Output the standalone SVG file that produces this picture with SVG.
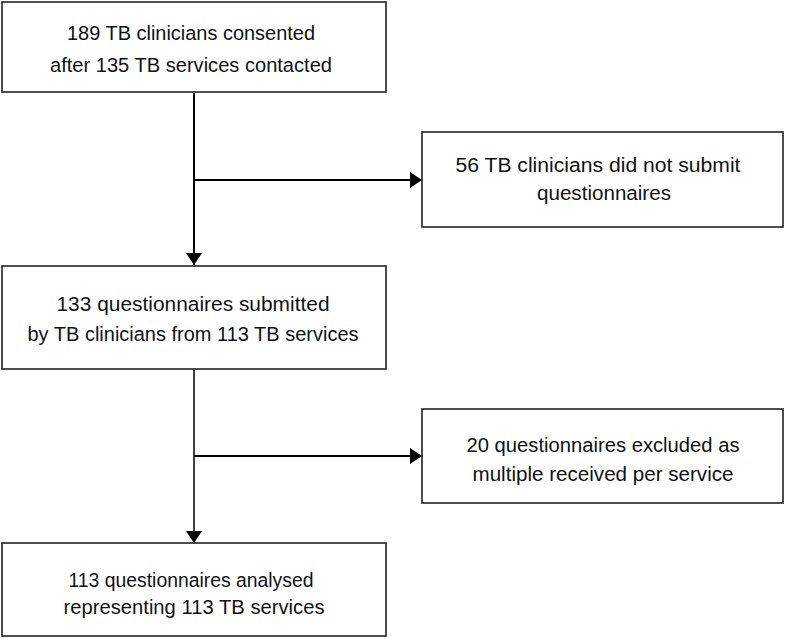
<svg xmlns="http://www.w3.org/2000/svg" width="785" height="638" viewBox="0 0 785 638">
<style>
.box{fill:#fff;stroke:#222;stroke-width:1.6}
.t{font-family:"Liberation Sans",Arial,sans-serif;font-size:19.5px;fill:#111;text-anchor:middle}
.c{fill:none;stroke:#000;stroke-width:2}
.c2{fill:none;stroke:#000;stroke-width:1.5}
</style>
<defs>
<marker id="ah" markerUnits="userSpaceOnUse" markerWidth="13" markerHeight="16" refX="12" refY="8" orient="auto">
<path d="M0,0 L12,8 L0,16 Z" fill="#000"/>
</marker>
</defs>
<rect width="785" height="638" fill="#fff"/>
<g id="connectors">
<line class="c" x1="194" y1="93" x2="194" y2="265" marker-end="url(#ah)"/>
<line class="c" x1="194" y1="180" x2="422" y2="180" marker-end="url(#ah)"/>
<line class="c2" x1="194" y1="369" x2="194" y2="543" marker-end="url(#ah)"/>
<line class="c" x1="194" y1="456" x2="422" y2="456" marker-end="url(#ah)"/>
</g>
<g id="n1">
<rect class="box" x="2" y="2" width="384" height="90"/>
<text class="t" x="191" y="40" textLength="248" lengthAdjust="spacingAndGlyphs">189 TB clinicians consented</text>
<text class="t" x="191" y="72" textLength="282" lengthAdjust="spacingAndGlyphs">after 135 TB services contacted</text>
</g>
<g id="n2">
<rect class="box" x="422" y="132" width="361" height="95"/>
<text class="t" x="598" y="172" textLength="285" lengthAdjust="spacingAndGlyphs">56 TB clinicians did not submit</text>
<text class="t" x="604" y="200" textLength="134" lengthAdjust="spacingAndGlyphs">questionnaires</text>
</g>
<g id="n3">
<rect class="box" x="2" y="266" width="384" height="103"/>
<text class="t" x="193" y="311" textLength="273" lengthAdjust="spacingAndGlyphs">133 questionnaires submitted</text>
<text class="t" x="193" y="341" textLength="331" lengthAdjust="spacingAndGlyphs">by TB clinicians from 113 TB services</text>
</g>
<g id="n4">
<rect class="box" x="422" y="409" width="361" height="94"/>
<text class="t" x="603" y="452" textLength="273" lengthAdjust="spacingAndGlyphs">20 questionnaires excluded as</text>
<text class="t" x="603" y="481" textLength="261" lengthAdjust="spacingAndGlyphs">multiple received per service</text>
</g>
<g id="n5">
<rect class="box" x="2" y="543" width="384" height="93"/>
<text class="t" x="191" y="587" textLength="245" lengthAdjust="spacingAndGlyphs">113 questionnaires analysed</text>
<text class="t" x="194" y="614" textLength="261" lengthAdjust="spacingAndGlyphs">representing 113 TB services</text>
</g>
</svg>
